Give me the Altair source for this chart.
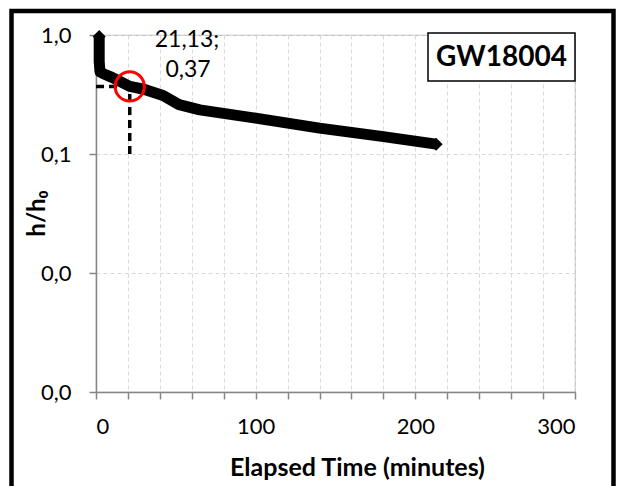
import altair as alt
import pandas as pd

# ---- data ----
time_min = [2.0, 2.0, 2.5, 5.0, 10.0, 21.13, 30.0, 42.0, 52.0, 65.0, 100.0, 140.0, 180.0, 213.0]
h_ratio = [0.97, 0.60, 0.49, 0.47, 0.44, 0.37, 0.35, 0.31, 0.26, 0.235, 0.20, 0.165, 0.14, 0.121]

marker_t = 21.13
marker_h = 0.37
guide_low = 0.1
well_id = "GW18004"

x_ticks = list(range(0, 301, 20))
y_ticks = [0.001, 0.01, 0.1, 1.0]

FONT = "Lato"

main_df = pd.DataFrame({"t": time_min, "h": h_ratio, "order": list(range(len(time_min)))})
ends_df = main_df.iloc[[0, len(main_df) - 1]]
marker_df = pd.DataFrame({"t": [marker_t], "h": [marker_h]})
vguide_df = pd.DataFrame({"t": [marker_t], "h": [guide_low], "h2": [marker_h]})
hguide_df = pd.DataFrame({"t": [0.0], "t2": [marker_t], "h": [marker_h]})
label_txt = f"{marker_t:.2f}".replace(".", ",") + ";"
label_txt2 = f"{marker_h:.2f}".replace(".", ",")
one = pd.DataFrame({"k": [0]})

xscale = alt.Scale(domain=[0, 300], nice=False, zero=False)
yscale = alt.Scale(type="log", domain=[0.001, 1], nice=False)

xaxis = alt.Axis(
    values=x_ticks,
    labelExpr="datum.value % 100 == 0 ? datum.value : ''",
    title="Elapsed Time (minutes)",
    titleX=261, titleY=75, titleBaseline="middle", titleAnchor="middle",
    tickSize=7, labelPadding=27, labelBaseline="middle",
)
yaxis = alt.Axis(
    values=y_ticks,
    labelExpr="replace(format(datum.value, '.1f'), '.', ',')",
    title="h/h₀",
    titleX=-52, titleY=178, titleAngle=270, titleBaseline="alphabetic", titleAnchor="middle",
    titleFontSize=24,
    tickSize=7, labelPadding=18,
)

X = alt.X("t:Q", scale=xscale, axis=xaxis)
Y = alt.Y("h:Q", scale=yscale, axis=yaxis)

vguide = alt.Chart(vguide_df).mark_rule(color="black", strokeWidth=3.5, strokeDash=[8, 5]).encode(
    x=X, y=Y, y2="h2:Q"
)
hguide = alt.Chart(hguide_df).mark_rule(color="black", strokeWidth=3.5, strokeDash=[8, 5]).encode(
    x=X, x2="t2:Q", y=Y
)
line = alt.Chart(main_df).mark_line(color="black", strokeWidth=11, strokeJoin="round").encode(
    x=X, y=Y, order="order:Q"
)
pts = alt.Chart(ends_df).mark_point(shape="diamond", filled=True, color="black", size=170, opacity=1).encode(
    x=X, y=Y
)
circle = alt.Chart(marker_df).mark_point(shape="circle", filled=False, color="#FF0000", strokeWidth=3, size=850, opacity=1).encode(
    x=X, y=Y
)
ann = alt.Chart(one).mark_text(font=FONT, fontSize=23, color="black", align="center", baseline="middle").encode(
    x=alt.value(91), y=alt.value(5), text=alt.value(label_txt)
)
ann2 = alt.Chart(one).mark_text(font=FONT, fontSize=23, color="black", align="center", baseline="middle").encode(
    x=alt.value(92), y=alt.value(35), text=alt.value(label_txt2)
)
box = alt.Chart(one).mark_rect(fill="white", stroke="black", strokeWidth=1.5).encode(
    x=alt.value(332), x2=alt.value(479), y=alt.value(-2), y2=alt.value(46)
)
box_txt = alt.Chart(one).mark_text(font=FONT, fontSize=28, fontWeight="bold", color="black", align="center", baseline="middle").encode(
    x=alt.value(405.5), y=alt.value(23), text=alt.value(well_id)
)
frame = alt.Chart(one).mark_rect(filled=False, fill="transparent", stroke="black", strokeWidth=4.5).encode(
    x=alt.value(-84.5), x2=alt.value(517.5), y=alt.value(-24), y2=alt.value(480)
)

chart = alt.layer(hguide, vguide, line, pts, circle, ann, ann2, box, box_txt, frame).properties(
    width=479, height=357,
    background="white",
    autosize=alt.AutoSizeParams(type="none"),
    padding={"left": 96, "top": 35, "right": 42, "bottom": 94},
).configure_view(
    stroke="#BFBFBF", strokeWidth=1.2
).configure_axis(
    labelFont=FONT, labelFontSize=22, labelColor="black",
    titleFont=FONT, titleFontSize=25, titleFontWeight="bold", titleColor="black",
    domainColor="#868686", domainWidth=1.5, tickColor="#868686", tickWidth=1.5,
    gridColor="#D9D9D9", gridDash=[4, 3], gridWidth=1,
)

chart.save("out.html", embed_options={"renderer": "svg", "actions": False})
